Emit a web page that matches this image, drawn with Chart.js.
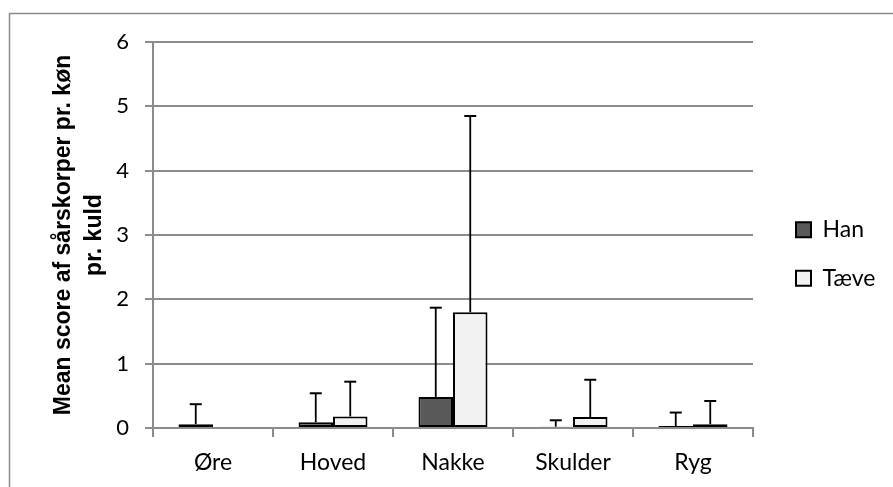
<!DOCTYPE html>
<html>
<head>
<meta charset="utf-8">
<script src="https://cdn.jsdelivr.net/npm/chart.js@4/dist/chart.umd.min.js"></script>
<style>
  html, body { margin: 0; padding: 0; background: #ffffff; }
  #wrap { width: 893px; height: 487px; position: relative; }
</style>
</head>
<body>
<div id="wrap"><canvas id="c" width="893" height="487"></canvas></div>
<script>
// ---- data ----
const categories = ['Øre', 'Hoved', 'Nakke', 'Skulder', 'Ryg'];
const seriesNames = ['Han', 'Tæve'];
const hanMeans = [0.06, 0.09, 0.48, 0.02, 0.03];
const taeveMeans = [0.00, 0.18, 1.80, 0.17, 0.06];
const hanErrors = [0.31, 0.45, 1.39, 0.10, 0.21];
const taeveErrors = [0.00, 0.54, 3.05, 0.58, 0.36];
const yTicks = [0, 1, 2, 3, 4, 5, 6];
const yTitle = ['Mean score af sårskorper pr. køn', 'pr. kuld'];

const GRID = '#8c8c8c';
const LABEL_FONT = 'Lato, "Open Sans", sans-serif';

// legend sizing (layout only)
const LEG_FONT = 23, LEG_BOX = 15, LEG_PAD = 25.5, SPACER = 17.5, PLOT_RIGHT = 753, W = 893;
const mctx = document.createElement('canvas').getContext('2d');
mctx.font = LEG_FONT + 'px ' + LABEL_FONT;
const legendTextW = Math.max(...seriesNames.map(n => mctx.measureText(n).width));
const legendW = LEG_PAD + LEG_BOX + LEG_FONT / 2 + legendTextW + 10;
const padRight = Math.max(0, W - PLOT_RIGHT - SPACER - legendW);

const frame = {
  id: 'frame',
  beforeDraw(chart) {
    const ctx = chart.ctx;
    ctx.save();
    ctx.fillStyle = '#ffffff';
    ctx.fillRect(0, 0, chart.width, chart.height);
    ctx.strokeStyle = '#8a8a8a';
    ctx.lineWidth = 1.5;
    ctx.strokeRect(9.5, 13.5, chart.width + 20, chart.height + 20);
    ctx.restore();
  }
};

const errorBars = {
  id: 'errorBars',
  afterDatasetsDraw(chart) {
    const ctx = chart.ctx;
    const yScale = chart.scales.y;
    ctx.save();
    ctx.strokeStyle = '#000000';
    chart.data.datasets.forEach((ds, di) => {
      const meta = chart.getDatasetMeta(di);
      meta.data.forEach((bar, i) => {
        const err = ds.errors[i];
        if (!err) return;
        const top = yScale.getPixelForValue(ds.data[i] + err);
        const x = bar.x;
        ctx.lineWidth = 1.8;
        ctx.beginPath();
        ctx.moveTo(x, bar.y);
        ctx.lineTo(x, top);
        ctx.stroke();
        ctx.lineWidth = 2;
        ctx.beginPath();
        ctx.moveTo(x - 6, top);
        ctx.lineTo(x + 6, top);
        ctx.stroke();
      });
    });
    ctx.restore();
  }
};

new Chart(document.getElementById('c'), {
  type: 'bar',
  data: {
    labels: categories,
    datasets: [
      {
        label: seriesNames[0],
        data: hanMeans,
        errors: hanErrors,
        backgroundColor: '#595959',
        borderColor: '#000000',
        borderWidth: 2,
        borderSkipped: false,
        categoryPercentage: 0.575,
        barPercentage: 1.0
      },
      {
        label: seriesNames[1],
        data: taeveMeans,
        errors: taeveErrors,
        backgroundColor: '#f2f2f2',
        borderColor: '#000000',
        borderWidth: 2,
        borderSkipped: false,
        categoryPercentage: 0.575,
        barPercentage: 1.0
      }
    ]
  },
  options: {
    responsive: false,
    animation: false,
    devicePixelRatio: 1,
    layout: { padding: { top: 21, right: padRight, bottom: 0, left: 0 } },
    scales: {
      x: {
        grid: {
          display: true,
          drawOnChartArea: false,
          drawTicks: true,
          tickLength: 9,
          color: GRID,
          lineWidth: 2,
          offset: true
        },
        border: { display: true, color: GRID, width: 2 },
        ticks: {
          color: '#000000',
          padding: 12,
          font: { family: LABEL_FONT, size: 23 }
        },
        afterFit(s) { s.height = 59; }
      },
      xTop: {
        type: 'category',
        position: 'top',
        display: true,
        grid: { display: false, drawTicks: false },
        border: { display: false },
        ticks: { display: false },
        afterFit(s) { s.height = 21; }
      },
      y: {
        min: 0,
        max: 6,
        afterBuildTicks(s) { s.ticks = yTicks.map(v => ({ value: v })); },
        grid: {
          color: GRID,
          lineWidth: 2,
          drawTicks: true,
          tickLength: 8
        },
        border: { display: true, color: GRID, width: 2 },
        ticks: {
          color: '#000000',
          padding: 16,
          font: { family: LABEL_FONT, size: 22 }
        },
        title: {
          display: true,
          text: yTitle,
          color: '#000000',
          padding: { top: 48, bottom: 0 },
          font: { family: '"Liberation Sans", Arial, sans-serif', size: 23, weight: 'bold', lineHeight: 1.35 }
        },
        afterFit(s) { s.width = 153; }
      },
      spacer: {
        type: 'linear',
        position: 'right',
        display: true,
        grid: { display: false, drawTicks: false },
        border: { display: false },
        ticks: { display: false },
        afterFit(s) { s.width = SPACER; }
      }
    },
    plugins: {
      legend: {
        position: 'right',
        labels: {
          color: '#000000',
          boxWidth: LEG_BOX,
          boxHeight: LEG_BOX,
          padding: LEG_PAD,
          font: { family: LABEL_FONT, size: LEG_FONT }
        }
      },
      tooltip: { enabled: false }
    }
  },
  plugins: [frame, errorBars]
});
</script>
</body>
</html>
